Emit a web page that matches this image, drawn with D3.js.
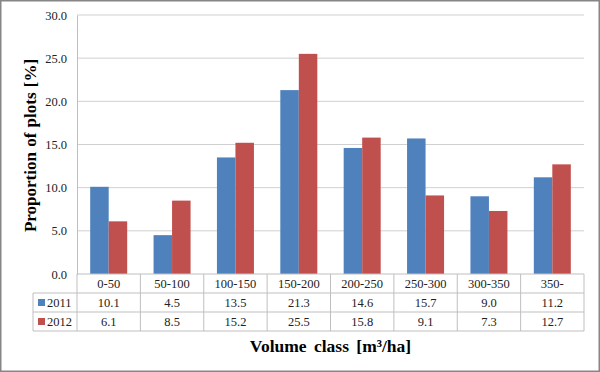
<!DOCTYPE html>
<html><head><meta charset="utf-8">
<script src="https://cdn.jsdelivr.net/npm/d3@7"></script>
<style>html,body{margin:0;padding:0;background:#fff}svg{display:block}</style>
</head><body>
<svg id="c" width="600" height="372"></svg>
<script>
const categories = ["0-50","50-100","100-150","150-200","200-250","250-300","300-350","350-"];
const seriesNames = ["2011","2012"];
const values2011 = [10.1,4.5,13.5,21.3,14.6,15.7,9.0,11.2];
const values2012 = [6.1,8.5,15.2,25.5,15.8,9.1,7.3,12.7];
const yTicks = [0,5,10,15,20,25,30];
const colors = ["#4F81BD","#C0504D"];

const svg = d3.select("#c");
const font = "'Liberation Serif','Times New Roman',serif";
svg.append("rect").attr("x",0.75).attr("y",0.75).attr("width",598.5).attr("height",370.5)
  .attr("fill","#fff").attr("stroke","#868686").attr("stroke-width",1.5);

const L=77, R=584, T=15, B=274;
const x = d3.scaleBand().domain(categories).range([L,R]);
const y = d3.scaleLinear().domain([0,30]).range([B,T]);
const series = [values2011, values2012];

// gridlines
svg.append("g").selectAll("line").data(yTicks.filter(d=>d>0)).join("line")
  .attr("x1",L).attr("x2",R).attr("y1",d=>y(d)).attr("y2",d=>y(d))
  .attr("stroke","#d0d0d0").attr("stroke-width",1);

// y axis
const yAxis = svg.append("g").attr("transform",`translate(${L},0)`)
  .call(d3.axisLeft(y).tickValues(yTicks).tickFormat(d3.format(".1f")).tickSize(0).tickPadding(10));
yAxis.select(".domain").attr("stroke","#bfbfbf");
yAxis.selectAll("text").attr("font-family",font).attr("font-size",12.5).attr("fill","#222");

// bars
const bw = 18.5;
series.forEach((vals,si)=>{
  svg.append("g").selectAll("rect").data(vals).join("rect")
    .attr("x",(d,i)=>x(categories[i])+x.bandwidth()/2 - bw + si*bw)
    .attr("width",bw)
    .attr("y",d=>y(d)).attr("height",d=>B-y(d))
    .attr("fill",colors[si]);
});

// data table
const rowH = 19;
const tbl = svg.append("g");
const lc = "#bfbfbf";
const tx0 = 33;
tbl.append("line").attr("x1",L).attr("x2",R).attr("y1",B).attr("y2",B).attr("stroke",lc);
[B+rowH, B+2*rowH, B+3*rowH].forEach(yy=>{
  tbl.append("line").attr("x1",tx0).attr("x2",R).attr("y1",yy).attr("y2",yy).attr("stroke",lc);
});
tbl.append("line").attr("x1",tx0).attr("x2",tx0).attr("y1",B+rowH).attr("y2",B+3*rowH).attr("stroke",lc);
categories.forEach(c=>{
  tbl.append("line").attr("x1",x(c)).attr("x2",x(c)).attr("y1",B).attr("y2",B+3*rowH).attr("stroke",lc);
});
tbl.append("line").attr("x1",R).attr("x2",R).attr("y1",B).attr("y2",B+3*rowH).attr("stroke",lc);

tbl.selectAll("text.cat").data(categories).join("text").attr("class","cat")
  .attr("x",d=>x(d)+x.bandwidth()/2).attr("y",B+rowH/2+4.5)
  .attr("text-anchor","middle").attr("font-family",font).attr("font-size",12.5).attr("fill","#222")
  .text(d=>d);
series.forEach((vals,si)=>{
  const yy = B+rowH*(si+1)+rowH/2+4.5;
  tbl.append("g").selectAll("text").data(vals).join("text")
    .attr("x",(d,i)=>x(categories[i])+x.bandwidth()/2).attr("y",yy)
    .attr("text-anchor","middle").attr("font-family",font).attr("font-size",12.5).attr("fill","#222")
    .text(d=>d.toFixed(1));
  tbl.append("rect").attr("x",38).attr("y",B+rowH*(si+1)+rowH/2-3.5).attr("width",7).attr("height",7)
    .attr("fill",colors[si]);
  tbl.append("text").attr("x",47).attr("y",yy).attr("font-family",font).attr("font-size",12.5)
    .attr("fill","#222").text(seriesNames[si]);
});

// axis titles
svg.append("text").attr("x",(L+R)/2).attr("y",352).attr("text-anchor","middle")
  .attr("font-family",font).attr("font-size",17.5).attr("font-weight","bold").attr("fill","#000")
  .attr("word-spacing",3)
  .text("Volume class [m³/ha]");
svg.append("text").attr("transform",`translate(36,${(T+B)/2+1}) rotate(-90)`).attr("text-anchor","middle")
  .attr("font-family",font).attr("font-size",17).attr("font-weight","bold").attr("fill","#000")
  .attr("word-spacing",1)
  .text("Proportion of plots [%]");
</script>
</body></html>
